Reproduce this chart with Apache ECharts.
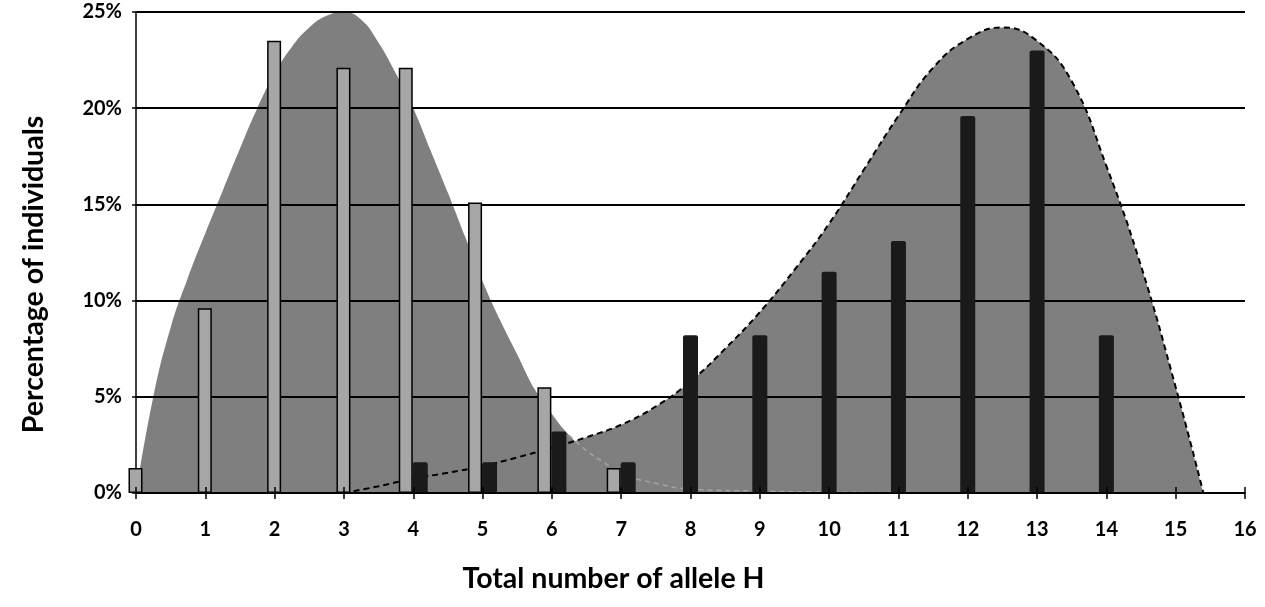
<!DOCTYPE html>
<html>
<head>
<meta charset="utf-8">
<script src="https://cdn.jsdelivr.net/npm/echarts@6/dist/echarts.min.js"></script>
<style>html,body{margin:0;padding:0;background:#fff}#c{width:1265px;height:607px}</style>
</head>
<body>
<div id="c"></div>
<script>
// Bars: group with low H counts (light grey) and high H counts (black)
const greyX = [0, 1, 2, 3, 4, 5, 6, 7];
const greyPct = [1.3, 9.6, 23.5, 22.1, 22.1, 15.1, 5.5, 1.3];
const blackX = [4, 5, 6, 7, 8, 9, 10, 11, 12, 13, 14];
const blackPct = [1.6, 1.6, 3.2, 1.6, 8.2, 8.2, 11.5, 13.1, 19.6, 23.0, 8.2];

// Fitted distribution curves
const curve1X = [0, 0.25, 0.5, 0.75, 1.0, 1.25, 1.5, 1.75, 2.0, 2.25, 2.5, 2.75, 3.0, 3.25, 3.5, 3.75, 4.0, 4.25, 4.5, 4.75, 5.0, 5.25, 5.5, 5.75, 6.0, 6.25, 6.5, 6.75, 7.0, 7.5, 8.0, 9, 10, 11, 12, 13];
const curve1Y = [0, 5.0, 8.6, 11.2, 13.5, 15.7, 17.9, 20.0, 21.8, 23.2, 24.2, 24.8, 25.0, 24.6, 23.4, 21.8, 20.0, 17.8, 15.6, 13.3, 11.0, 9.0, 7.2, 5.4, 4.1, 3.0, 2.2, 1.6, 1.0, 0.5, 0.2, 0.1, 0.05, 0.02, 0.01, 0];
const curve2X = [3, 3.5, 4, 4.5, 5, 5.5, 6, 6.5, 7, 7.5, 8, 8.5, 9, 9.5, 10, 10.5, 11, 11.5, 12, 12.5, 13, 13.5, 14, 14.5, 15, 15.4];
const curve2Y = [0, 0.35, 0.75, 1.05, 1.4, 1.85, 2.35, 2.9, 3.55, 4.5, 5.8, 7.5, 9.4, 11.6, 14.0, 16.8, 19.6, 22.1, 23.6, 24.2, 23.5, 21.4, 17.0, 11.8, 5.5, 0];

const xTickLabels = ['0','1','2','3','4','5','6','7','8','9','10','11','12','13','14','15','16'];
const yTickLabels = ['0%','5%','10%','15%','20%','25%'];

const zip = (xs, ys) => xs.map((x, i) => [x, ys[i]]);
const curve1 = zip(curve1X, curve1Y);
const tail1 = curve1.filter(p => p[0] >= 6.25);
const greyData = zip(greyX, greyPct);
const blackData = zip(blackX, blackPct);
// side-by-side where both groups have a bar, centred where only one has
const greyPaired = greyData.filter(p => blackX.includes(p[0]));
const greySingle = greyData.filter(p => !blackX.includes(p[0]));
const blackPaired = blackData.filter(p => greyX.includes(p[0]));
const blackSingle = blackData.filter(p => !greyX.includes(p[0]));

const FONT = 'Lato';
const tickFont = { fontFamily: FONT, fontWeight: 'bold', fontSize: 20, color: '#000' };
const titleFont = { fontFamily: FONT, fontWeight: 'bold', fontSize: 28.5, color: '#000' };
const hiddenX = { type: 'value', min: 0, max: 16, interval: 1, show: false };
const greyStyle = { color: '#a6a6a6', borderColor: '#000', borderWidth: 1.5 };
const blackStyle = { color: '#1a1a1a', borderRadius: [2, 2, 0, 0] };
const SMOOTH = 0.45;

const chart = echarts.init(document.getElementById('c'));
chart.setOption({
  animation: false,
  backgroundColor: '#fff',
  grid: { left: 136, right: 20, top: 12, bottom: 114, containLabel: false },
  xAxis: [{
    type: 'value', min: 0, max: 16, interval: 1, z: 4,
    name: 'Total number of allele H', nameLocation: 'middle', nameGap: 71,
    nameTextStyle: Object.assign({ padding: [0, 154, 0, 0] }, titleFont),
    axisLine: { show: true, onZero: false, lineStyle: { color: '#000', width: 1.5 } },
    axisTick: { show: true, length: 6, lineStyle: { color: '#000', width: 1.5 } },
    axisLabel: Object.assign({ margin: 27, formatter: v => xTickLabels[v] }, tickFont),
    splitLine: { show: false }
  }, {
    type: 'value', min: 0, max: 16, interval: 1, z: 4, position: 'bottom',
    axisLine: { show: false },
    axisTick: { show: true, inside: true, length: 6, lineStyle: { color: '#000', width: 1.5 } },
    axisLabel: { show: false },
    splitLine: { show: false }
  }, hiddenX],
  yAxis: {
    type: 'value', min: 0, max: 25, interval: 5, z: 2,
    name: 'Percentage of individuals', nameLocation: 'middle', nameGap: 88, nameRotate: 90,
    nameTextStyle: Object.assign({ padding: [0, 44, 0, 0] }, titleFont),
    axisLine: { show: true, lineStyle: { color: '#000', width: 1.5 } },
    axisTick: { show: true, length: 4, lineStyle: { color: '#000', width: 1.5 } },
    axisLabel: Object.assign({ margin: 14, formatter: v => yTickLabels[v / 5] }, tickFont),
    splitLine: { show: true, lineStyle: { color: '#000', width: 1.8 } }
  },
  series: [
    {
      type: 'line', name: 'fit1', data: curve1, smooth: SMOOTH, symbol: 'none', z: 1,
      lineStyle: { width: 0 }, areaStyle: { color: '#7f7f7f', opacity: 1 }
    },
    {
      type: 'line', name: 'fit2', data: zip(curve2X, curve2Y), smooth: SMOOTH, symbol: 'none', z: 1,
      lineStyle: { color: '#000', width: 2, type: [6, 4] },
      areaStyle: { color: '#7f7f7f', opacity: 1 }
    },
    {
      type: 'line', name: 'fit1tail', data: tail1, smooth: SMOOTH, symbol: 'none', z: 1,
      lineStyle: { color: '#a4a4a4', width: 1.5, type: [5, 4] }
    },
    { type: 'bar', xAxisIndex: 0, data: greyPaired, barWidth: 14, barGap: '0%', z: 3, itemStyle: greyStyle },
    { type: 'bar', xAxisIndex: 0, data: blackPaired, barWidth: 15, barGap: '0%', z: 3, itemStyle: blackStyle },
    { type: 'bar', xAxisIndex: 2, data: greySingle, barWidth: 14, barGap: '-100%', z: 3, itemStyle: greyStyle },
    { type: 'bar', xAxisIndex: 2, data: blackSingle, barWidth: 15, barGap: '-100%', z: 3, itemStyle: blackStyle }
  ]
});
</script>
</body>
</html>
